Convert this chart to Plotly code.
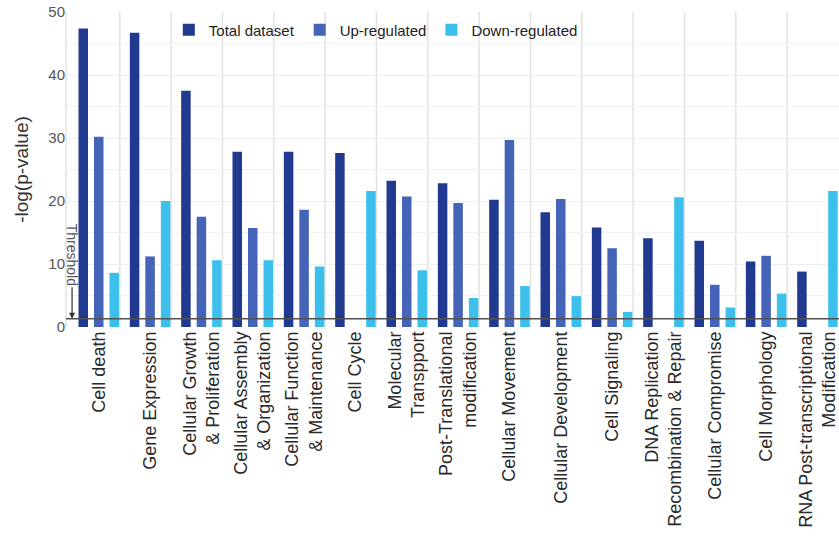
import plotly.graph_objects as go

# Functional categories (x axis)
categories = [
    "Cell death",
    "Gene Expression",
    "Cellular Growth<br>& Proliferation",
    "Cellular Assembly<br>& Organization",
    "Cellular Function<br>& Maintenance",
    "Cell Cycle",
    "Molecular<br>Transpport",
    "Post-Translational<br>modification",
    "Cellular Movement",
    "Cellular Development",
    "Cell Signaling",
    "DNA Replication<br>Recombination & Repair",
    "Cellular Compromise",
    "Cell Morphology",
    "RNA Post-transcriptional<br>Modification",
]

# -log(p-value) per category
total_dataset = [47.4, 46.7, 37.5, 27.8, 27.8, 27.6, 23.2, 22.8, 20.2, 18.2, 15.8, 14.1, 13.7, 10.4, 8.8]
up_regulated = [30.2, 11.2, 17.5, 15.7, 18.6, None, 20.7, 19.7, 29.7, 20.3, 12.5, None, 6.7, 11.3, None]
down_regulated = [8.6, 20.0, 10.6, 10.6, 9.6, 21.6, 9.0, 4.6, 6.5, 4.9, 2.4, 20.6, 3.1, 5.3, 21.6]

threshold = 1.3  # -log10(0.05)

y_ticks = [0, 10, 20, 30, 40, 50]

xpos = list(range(len(categories)))

FONT = "Liberation Sans, Arial, sans-serif"

fig = go.Figure()
fig.add_trace(go.Bar(x=xpos, y=total_dataset, name="Total dataset",
                     marker=dict(color="#213a8f", line=dict(width=0))))
fig.add_trace(go.Bar(x=xpos, y=up_regulated, name="Up-regulated",
                     marker=dict(color="#4564b8", line=dict(width=0))))
fig.add_trace(go.Bar(x=xpos, y=down_regulated, name="Down-regulated",
                     marker=dict(color="#3dbfec", line=dict(width=0))))

# vertical separators between category groups
shapes = []
for i in range(len(categories) - 1):
    shapes.append(dict(type="line", xref="x", yref="paper",
                       x0=i + 0.41, x1=i + 0.41, y0=0, y1=1,
                       line=dict(color="#e2e2e2", width=1.5), layer="below"))
# left border
shapes.append(dict(type="line", xref="paper", yref="paper", x0=0, x1=0, y0=0, y1=1,
                   line=dict(color="#e2e2e2", width=1.5), layer="below"))
# significance threshold line
shapes.append(dict(type="line", xref="paper", yref="y", x0=0, x1=1,
                   y0=threshold, y1=threshold,
                   line=dict(color="#505050", width=1.5), layer="above"))

fig.update_layout(
    width=839, height=544,
    margin=dict(l=66, r=0, t=12, b=217),
    paper_bgcolor="white", plot_bgcolor="white",
    barmode="group", bargap=0.094, bargroupgap=0.387,
    font=dict(family=FONT, color="#333333"),
    shapes=shapes,
    showlegend=True,
    legend=dict(orientation="h", x=0.133, xanchor="left", y=0.995, yanchor="top",
                bgcolor="rgba(0,0,0,0)", font=dict(size=15, color="#222222"),
                traceorder="normal"),
    annotations=[dict(
        x=-0.52, y=threshold, xref="x", yref="y",
        text="Threshold", textangle=90, showarrow=True,
        ax=0, ay=-64, arrowhead=2, arrowsize=1, arrowwidth=1.2,
        arrowcolor="#333333", font=dict(size=14, color="#555555"),
    )],
)

fig.update_xaxes(
    range=[-0.638, 14.42], tickmode="array", tickvals=xpos, ticktext=categories,
    tickangle=-90, ticks="", showgrid=False, zeroline=False, showline=False,
    tickfont=dict(size=18, color="#2a2a2a"), automargin=False,
    ticklabeloverflow="allow",
)
fig.update_yaxes(
    range=[0, 50], tickmode="array", tickvals=y_ticks,
    showgrid=True, gridcolor="#eeeeee", gridwidth=1,
    minor=dict(dtick=5, showgrid=True, gridcolor="#f1f1f1"),
    zeroline=False, showline=False, ticks="",
    tickfont=dict(size=15, color="#555555"),
    title=dict(text="-log(p-value)", font=dict(size=19, color="#333333"), standoff=14),
    automargin=False,
)

fig.write_html("out.html")
